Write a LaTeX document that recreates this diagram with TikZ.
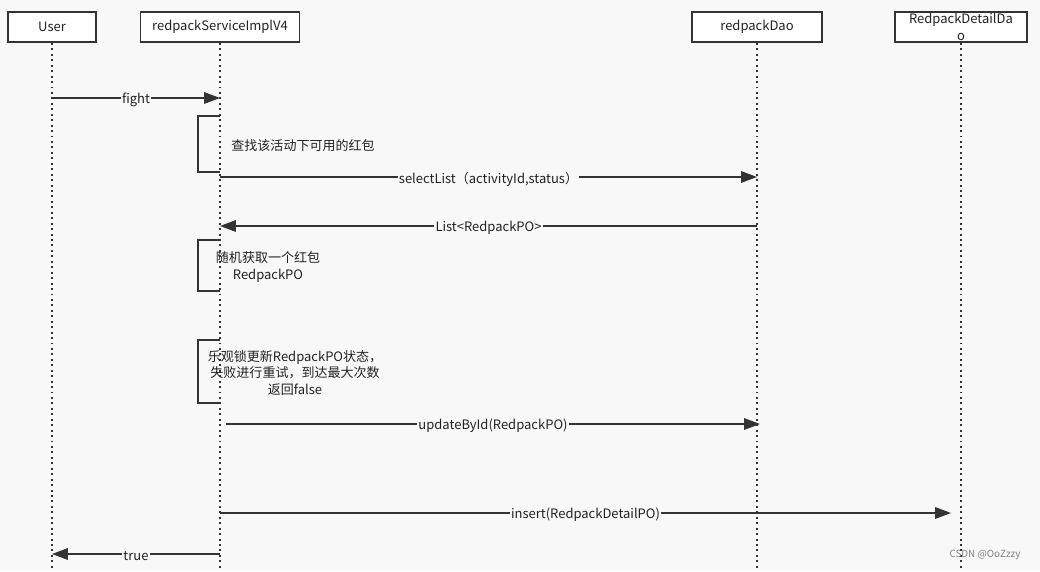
\documentclass[tikz,border=0pt]{standalone}
\usepackage{fontspec}
\setmainfont{Noto Sans CJK SC}
\usetikzlibrary{arrows.meta}
\definecolor{bgc}{RGB}{248,248,248}
\definecolor{linec}{RGB}{51,51,51}
\definecolor{textc}{RGB}{34,34,34}
\tikzset{
    actor/.style={draw=linec, line width=1.1pt, fill=white, minimum height=0.6cm, inner sep=0pt, align=center},
    life/.style={draw=linec, line width=1.1pt, dash pattern=on 1.1pt off 2pt},
    msg/.style={draw=linec, line width=0.9pt, -{Triangle[length=9pt,width=6.5pt]}},
    lbl/.style={fill=bgc, inner sep=0.6pt, yshift=-1.2pt},
    act/.style={draw=linec, line width=1.1pt},
}

\begin{document}
\begin{tikzpicture}[x=0.02cm, y=-0.02cm, text=textc, font=\fontsize{7.4}{9.3}\selectfont]
            \useasboundingbox[fill=bgc] (0,0) rectangle (1040,571);

            \node[actor, minimum width=1.76cm] at (52, 27)   (user) {\raisebox{-1pt}{User}};
            \node[actor, minimum width=3.18cm] at (220, 27)  (service) {\raisebox{-1pt}{redpackServiceImplV4}};
            \node[actor, minimum width=2.6cm]  at (757, 27)  (dao) {\raisebox{-1pt}{redpackDao}};
            \node[actor, minimum width=2.64cm] at (961, 27)  (detail) {RedpackDetailDa\\o};

            \coordinate (userend)    at (52, 571);
            \coordinate (serviceend) at (220, 571);
            \coordinate (daoend)     at (757, 571);
            \coordinate (detailend)  at (961, 571);

            \draw [life] (user.south) -- (userend);
            \draw [life] (service.south) -- (serviceend);
            \draw [life] (dao.south) -- (daoend);
            \draw [life] (detail.south) -- (detailend);

            \coordinate (fighta)  at (52, 98);
            \coordinate (fightb)  at (220, 98);
            \coordinate (selecta) at (220, 177);
            \coordinate (selectb) at (757, 177);
            \coordinate (lista)   at (757, 226);
            \coordinate (listb)   at (220, 226);
            \coordinate (updatea) at (226, 424);
            \coordinate (updateb) at (760, 424);
            \coordinate (inserta) at (220, 513);
            \coordinate (insertb) at (951, 513);
            \coordinate (truea)   at (220, 554);
            \coordinate (trueb)   at (52, 554);

            \draw [act] (220, 116) -| (198, 172) -- (220, 172);
            \draw [act] (220, 240) -| (198, 291) -- (220, 291);
            \draw [act] (220, 340) -| (198, 403) -- (220, 403);

            \node at (303, 146) (find) {查找该活动下可用的红包};
            \node[align=center] at (268, 267) (pick) {随机获取一个红包\\RedpackPO};
            \node[align=center] at (295, 373) (lock) {乐观锁更新RedpackPO状态，\\失败进行重试，到达最大次数\\返回false};

            \draw [msg] (fighta) -- node[lbl] (fightlbl) {fight} (fightb);
            \draw [msg] (selecta) -- node[lbl] (selectlbl) {selectList（activityId,status）} (selectb);
            \draw [msg] (lista) -- node[lbl] (listlbl) {List<RedpackPO>} (listb);
            \draw [msg] (updatea) -- node[lbl] (updatelbl) {updateById(RedpackPO)} (updateb);
            \draw [msg] (inserta) -- node[lbl] (insertlbl) {insert(RedpackDetailPO)} (insertb);
            \draw [msg] (truea) -- node[lbl] (truelbl) {true} (trueb);

            \node[text=gray, font=\fontsize{5.6}{7}\selectfont] at (985, 555) (mark) {CSDN @OoZzzy};
        \end{tikzpicture}
\end{document}
